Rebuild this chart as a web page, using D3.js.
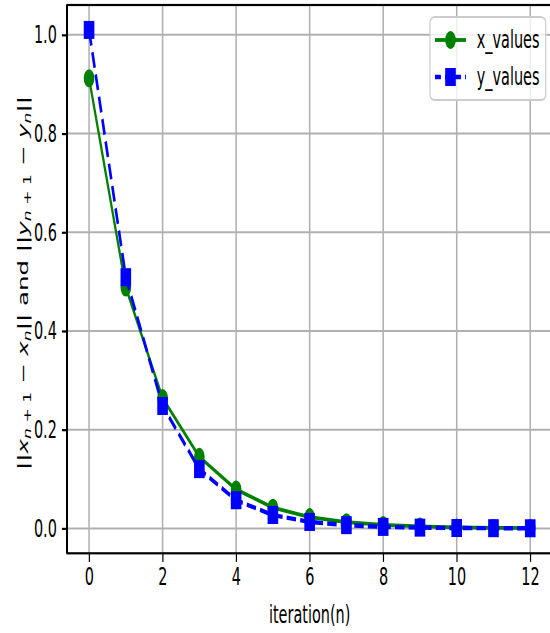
<!DOCTYPE html>
<html lang="en">
<head>
<meta charset="utf-8">
<title>Convergence of x and y</title>
<script src="https://cdn.jsdelivr.net/npm/d3@7"></script>
<style>
  body { margin: 0; background: #fff; }
  svg { display: block; }
  text { font-family: "DejaVu Sans", sans-serif; }
</style>
</head>
<body>
<script>
  // data
  var iterations = [0, 1, 2, 3, 4, 5, 6, 7, 8, 9, 10, 11, 12];
  var x_values = [0.912, 0.488, 0.264, 0.145, 0.079, 0.042, 0.023, 0.0125, 0.007, 0.004, 0.002, 0.001, 0.0006];
  var y_values = [1.01, 0.509, 0.248, 0.120, 0.057, 0.027, 0.013, 0.0065, 0.003, 0.0015, 0.0007, 0.0004, 0.0002];
  var xTicks = [0, 2, 4, 6, 8, 10, 12];
  var yTicks = [0.0, 0.2, 0.4, 0.6, 0.8, 1.0];
  var seriesNames = ["x_values", "y_values"];

  var w = 550, h = 633;
  var sx = 0.59;          // the picture is squeezed sideways
  var fs = 24.5;          // 10pt
  // plot box (window.top is read-only, so own names here)
  var pLeft = 67 / sx, pRight = 552.3 / sx, pTop = 5, pBottom = 553.3;

  var svg = d3.select("body").append("svg")
              .attr("width", w)
              .attr("height", h);

  var g = svg.append("g").attr("transform", "scale(" + sx + ",1)");

  var x = d3.scaleLinear().domain([-0.6, 12.6]).range([pLeft, pRight]);
  var y = d3.scaleLinear().domain([-0.0505, 1.0605]).range([pBottom, pTop]);

  // grid
  g.append("g").selectAll("line").data(xTicks).enter().append("line")
   .attr("x1", function(d) { return x(d); }).attr("x2", function(d) { return x(d); })
   .attr("y1", pTop).attr("y2", pBottom)
   .attr("stroke", "#b0b0b0").attr("stroke-width", 2.6);
  g.append("g").selectAll("line").data(yTicks).enter().append("line")
   .attr("x1", pLeft).attr("x2", pRight)
   .attr("y1", function(d) { return y(d); }).attr("y2", function(d) { return y(d); })
   .attr("stroke", "#b0b0b0").attr("stroke-width", 2);

  // axes
  var xAxis = g.append("g").attr("transform", "translate(0," + pBottom + ")")
               .call(d3.axisBottom(x).tickValues(xTicks).tickSize(8.6).tickSizeOuter(0).tickPadding(6));
  var yAxis = g.append("g").attr("transform", "translate(" + pLeft + ",0)")
               .call(d3.axisLeft(y).tickValues(yTicks).tickFormat(d3.format(".1f"))
                       .tickSize(8.6).tickSizeOuter(0).tickPadding(8.6));
  [xAxis, yAxis].forEach(function(a) {
    a.selectAll("text").attr("font-size", fs).attr("fill", "#000")
     .attr("font-family", "DejaVu Sans, sans-serif");
    a.selectAll("line").attr("stroke", "#000").attr("stroke-width", 2);
    a.select(".domain").attr("stroke", "none");
  });
  yAxis.selectAll("line").attr("stroke-width", 2.2);

  // spines
  g.append("rect").attr("x", pLeft).attr("y", pTop)
   .attr("width", pRight - pLeft).attr("height", pBottom - pTop)
   .attr("fill", "none").attr("stroke", "#000").attr("stroke-width", 2.2);
  g.append("line").attr("x1", pLeft).attr("x2", pLeft).attr("y1", pTop).attr("y2", pBottom)
   .attr("stroke", "#000").attr("stroke-width", 3.4);

  // series
  var lineX = d3.line().x(function(d, i) { return x(iterations[i]); }).y(function(d) { return y(d); });

  g.append("path").attr("d", lineX(x_values))
   .attr("fill", "none").attr("stroke", "green").attr("stroke-width", 3.8);
  g.append("g").selectAll("circle").data(x_values).enter().append("circle")
   .attr("cx", function(d, i) { return x(iterations[i]); })
   .attr("cy", function(d) { return y(d); })
   .attr("r", 9).attr("fill", "green");

  g.append("path").attr("d", lineX(y_values))
   .attr("fill", "none").attr("stroke", "blue").attr("stroke-width", 4.4)
   .attr("stroke-dasharray", "16,7");
  g.append("g").selectAll("rect").data(y_values).enter().append("rect")
   .attr("x", function(d, i) { return x(iterations[i]) - 9; })
   .attr("y", function(d) { return y(d) - 9; })
   .attr("width", 18).attr("height", 18).attr("fill", "blue");

  // labels
  g.append("text").attr("x", (pLeft + pRight) / 2).attr("y", 623)
   .attr("text-anchor", "middle").attr("font-size", fs).text("iteration(n)");

  var yl = g.append("text")
            .attr("transform", "translate(" + (28 / sx) + "," + 283 + ") rotate(-90)")
            .attr("text-anchor", "middle").attr("font-size", fs);
  // mathtext-like pieces: [text, italic, subscript]
  var pieces = [
    ["||", 0, 0], ["x", 1, 0], ["n", 1, 1], [" + 1", 0, 1], [" \u2212 ", 0, 0], ["x", 1, 0],
    ["n", 1, 1], ["||", 0, 0], [" and ||", 0, 0], ["y", 1, 0], ["n", 1, 1], [" + 1", 0, 1],
    [" \u2212 ", 0, 0], ["y", 1, 0], ["n", 1, 1], ["||", 0, 0]
  ];
  var inSub = false;
  pieces.forEach(function(p) {
    var s = yl.append("tspan").text(p[0]);
    if (p[1]) s.attr("font-style", "italic");
    if (p[2]) s.attr("font-size", fs * 0.7);
    if (p[2] && !inSub) s.attr("dy", 5);
    if (!p[2] && inSub) s.attr("dy", -5);
    inSub = !!p[2];
  });

  // legend
  var lg = g.append("g");
  lg.append("rect").attr("x", 430 / sx).attr("y", 17)
    .attr("width", (545.7 - 430) / sx).attr("height", 83)
    .attr("rx", 5 / sx).attr("ry", 5)
    .attr("fill", "#fff").attr("fill-opacity", 0.8)
    .attr("stroke", "#cccccc").attr("stroke-width", 2);
  var rows = [
    { name: seriesNames[0], color: "green", dash: null, yy: 40 },
    { name: seriesNames[1], color: "blue", dash: "16,7", yy: 77 }
  ];
  rows.forEach(function(r, k) {
    lg.append("line").attr("x1", 435 / sx).attr("x2", 466 / sx)
      .attr("y1", r.yy).attr("y2", r.yy)
      .attr("stroke", r.color).attr("stroke-width", k ? 4.4 : 3.8)
      .attr("stroke-dasharray", r.dash ? "10,7" : null);
    if (k === 0) {
      lg.append("circle").attr("cx", 450.5 / sx).attr("cy", r.yy).attr("r", 9).attr("fill", r.color);
    } else {
      lg.append("rect").attr("x", 450.5 / sx - 9).attr("y", r.yy - 9)
        .attr("width", 18).attr("height", 18).attr("fill", r.color);
    }
    lg.append("text").attr("x", 476.7 / sx).attr("y", r.yy + 8.5)
      .attr("font-size", fs).text(r.name);
  });
</script>
</body>
</html>
